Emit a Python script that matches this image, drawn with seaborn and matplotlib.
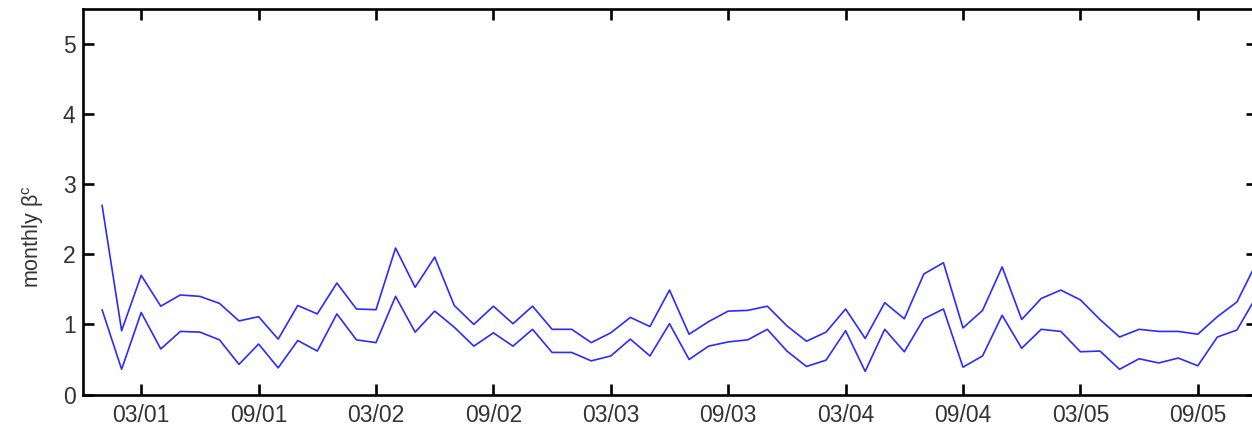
import matplotlib
matplotlib.use("Agg")
import matplotlib.pyplot as plt
import seaborn as sns
import pandas as pd

# Monthly estimates, Jan 2001 .. Dec 2005 (upper and lower bands)
upper = [2.70, 0.91, 1.70, 1.26, 1.42, 1.40, 1.30, 1.05, 1.11, 0.79,
         1.27, 1.15, 1.59, 1.22, 1.21, 2.09, 1.53, 1.96, 1.27, 1.00,
         1.26, 1.01, 1.26, 0.93, 0.93, 0.74, 0.88, 1.10, 0.97, 1.49,
         0.86, 1.04, 1.19, 1.20, 1.26, 0.98, 0.76, 0.89, 1.22, 0.80,
         1.31, 1.08, 1.72, 1.88, 0.95, 1.20, 1.82, 1.07, 1.37, 1.49,
         1.35, 1.07, 0.82, 0.93, 0.90, 0.90, 0.86, 1.11, 1.32, 1.88]
lower = [1.21, 0.36, 1.17, 0.65, 0.90, 0.89, 0.78, 0.43, 0.72, 0.38,
         0.77, 0.62, 1.15, 0.78, 0.74, 1.40, 0.89, 1.19, 0.96, 0.69,
         0.88, 0.69, 0.93, 0.60, 0.60, 0.48, 0.55, 0.79, 0.55, 1.01,
         0.50, 0.69, 0.75, 0.78, 0.93, 0.62, 0.40, 0.49, 0.91, 0.33,
         0.93, 0.61, 1.08, 1.22, 0.39, 0.55, 1.13, 0.66, 0.93, 0.90,
         0.61, 0.62, 0.36, 0.51, 0.45, 0.52, 0.41, 0.82, 0.92, 1.40]
tick_months = [2, 8, 14, 20, 26, 32, 38, 44, 50, 56]
tick_labels = ["03/01", "09/01", "03/02", "09/02", "03/03",
               "09/03", "03/04", "09/04", "03/05", "09/05"]
y_ticks = [0, 1, 2, 3, 4, 5]

month = list(range(len(upper)))
df = pd.DataFrame({
    "month": month * 2,
    "beta": upper + lower,
    "band": ["upper"] * len(upper) + ["lower"] * len(lower),
})

sns.set_style("ticks")
plt.rcParams["font.family"] = ["Liberation Sans", "DejaVu Sans"]
plt.rcParams["mathtext.fontset"] = "custom"
plt.rcParams["mathtext.rm"] = "Liberation Sans"

W, H = 1252, 433
fig = plt.figure(figsize=(W / 100, H / 100), dpi=100)
left, right, bottom, top = 82.5, 1256.5, 394.5, 9.0
ax = fig.add_axes([left / W, (H - bottom) / H,
                   (right - left) / W, (bottom - top) / H])

sns.lineplot(data=df, x="month", y="beta", hue="band",
             palette={"upper": "#2b2bff", "lower": "#2b2bff"},
             linewidth=1.2, legend=False, ax=ax, estimator=None)

ax.set_xlim(-1, 59)
ax.set_ylim(0, 5.5)
ax.set_xticks(tick_months)
ax.set_xticklabels(tick_labels)
ax.set_yticks(y_ticks)
ax.set_xlabel("")
ax.set_ylabel(r"monthly β$^{\mathregular{c}}$", fontsize=15.5, color="#333333")
ax.yaxis.set_label_coords(-0.031, 0.41)

for s in ax.spines.values():
    s.set_visible(True)
    s.set_linewidth(1.9)
    s.set_color("black")
ax.tick_params(direction="in", top=True, right=True, length=8, width=1.9,
               labelsize=16.5, labelcolor="#333333", color="black")
ax.tick_params(axis="x", pad=7)
ax.tick_params(axis="y", pad=5)

fig.savefig("out.png", dpi=100)
